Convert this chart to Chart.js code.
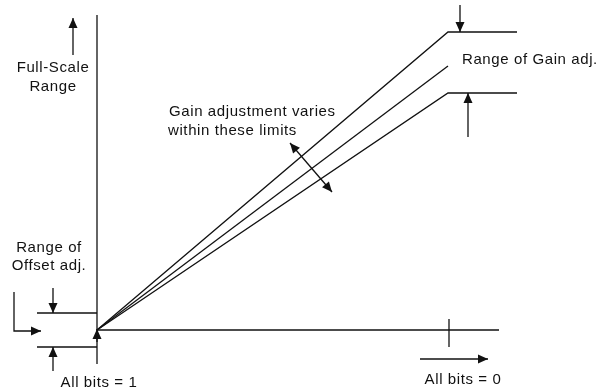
<!DOCTYPE html>
<html>
<head>
<meta charset="utf-8">
<script src="https://cdn.jsdelivr.net/npm/chart.js@4/dist/chart.umd.min.js"></script>
<style>
  html, body { margin: 0; padding: 0; background: #fff; }
  canvas { display: block; }
</style>
</head>
<body>
<canvas id="chart" width="603" height="391"></canvas>
<script>
// transfer function: input code (x) vs analog output (y), origin where axes cross
const codeX = [0, 351, 420]
const maxGain = [0, 298, 298]
const idealGain = [0, 264]
const minGain = [0, 237, 237]

// axes of the diagram
const outputAxisX = [0, 0]
const outputAxisY = [-34, 315]
const codeAxisX = [0, 402]
const codeAxisY = [0, 0]
const fullCodeTickX = [352, 352]
const fullCodeTickY = [-17, 11]

// offset adjustment band
const offsetBandX = [-60, 0]
const offsetHigh = [17, 17]
const offsetLow = [-17, -17]

// arrows: [x0, y0, x1, y1], head at the second end
const arrowGainTop = [363, 325, 363, 298]
const arrowGainBottom = [371, 193, 371, 237]
const arrowFullScale = [-24, 275, -24, 312]
const arrowOffsetTop = [-44, 42, -44, 17]
const arrowOffsetBottom = [-44, -41, -44, -17]
const arrowOrigin = [0, -12, 0, 1]
const arrowAllZero = [323, -29, 391, -29]
const arrowGainSpread = [193, 187, 235, 138]
const bentArrowX = [-83, -83, -56]
const bentArrowY = [38, -1, -1]

// text
const labelText = ['Full-Scale', 'Range', 'Range of', 'Offset adj.', 'All bits = 1', 'All bits = 0',
  'Range of Gain adj.', 'Gain adjustment varies', 'within these limits']
const labelX = [-44, -44, -48, -48, 2, 366, 365, 72, 71]
const labelY = [262, 243, 82, 64, -53, -50, 270, 218, 199]
const labelAlign = ['center', 'center', 'center', 'center', 'center', 'center', 'left', 'left', 'left']

const pts = (xs, ys) => xs.map((x, i) => ({x, y: ys[i]}))
const seg = (a) => [{x: a[0], y: a[1]}, {x: a[2], y: a[3]}]

const ink = '#111'
const line = (data, extra) => Object.assign({
  data, showLine: true, borderColor: ink, borderWidth: 1.3, pointRadius: 0, fill: false
}, extra)

const datasets = [
  line(pts(codeX, maxGain)),
  line(pts(codeX.slice(0, 2), idealGain)),
  line(pts(codeX, minGain)),
  line(pts(outputAxisX, outputAxisY)),
  line(pts(codeAxisX, codeAxisY)),
  line(pts(fullCodeTickX, fullCodeTickY)),
  line(pts(offsetBandX, offsetHigh)),
  line(pts(offsetBandX, offsetLow)),
  line(seg(arrowGainTop), {arrow: 'end'}),
  line(seg(arrowGainBottom), {arrow: 'end'}),
  line(seg(arrowFullScale), {arrow: 'end'}),
  line(seg(arrowOffsetTop), {arrow: 'end'}),
  line(seg(arrowOffsetBottom), {arrow: 'end'}),
  line(seg(arrowOrigin), {arrow: 'end'}),
  line(seg(arrowAllZero), {arrow: 'end'}),
  line(seg(arrowGainSpread), {arrow: 'both'}),
  line(pts(bentArrowX, bentArrowY), {arrow: 'end'})
]

// filled arrowheads at the ends of flagged datasets
const arrowHeads = {
  id: 'arrowHeads',
  afterDatasetsDraw(chart) {
    const {ctx, scales: {x, y}} = chart
    const head = (tip, from) => {
      const tx = x.getPixelForValue(tip.x), ty = y.getPixelForValue(tip.y)
      const fx = x.getPixelForValue(from.x), fy = y.getPixelForValue(from.y)
      const a = Math.atan2(ty - fy, tx - fx)
      const len = 10, half = 4.5
      ctx.beginPath()
      ctx.moveTo(tx, ty)
      ctx.lineTo(tx - len * Math.cos(a) - half * Math.sin(a), ty - len * Math.sin(a) + half * Math.cos(a))
      ctx.lineTo(tx - len * Math.cos(a) + half * Math.sin(a), ty - len * Math.sin(a) - half * Math.cos(a))
      ctx.closePath()
      ctx.fill()
    }
    ctx.save()
    ctx.fillStyle = ink
    chart.data.datasets.forEach((ds) => {
      if (!ds.arrow) return
      const d = ds.data, n = d.length
      head(d[n - 1], d[n - 2])
      if (ds.arrow === 'both') head(d[0], d[1])
    })
    ctx.restore()
  }
}

// text annotations placed through the scales
const labels = {
  id: 'labels',
  afterDraw(chart) {
    const {ctx, scales: {x, y}} = chart
    ctx.save()
    ctx.fillStyle = ink
    ctx.font = '15px "Liberation Sans", Arial, sans-serif'
    ctx.letterSpacing = '0.6px'
    ctx.textBaseline = 'middle'
    labelText.forEach((t, i) => {
      ctx.textAlign = labelAlign[i]
      ctx.fillText(t, x.getPixelForValue(labelX[i]), y.getPixelForValue(labelY[i]))
    })
    ctx.restore()
  }
}

new Chart(document.getElementById('chart'), {
  type: 'scatter',
  data: { datasets },
  options: {
    responsive: false,
    devicePixelRatio: 1,
    animation: false,
    layout: { padding: 0 },
    plugins: { legend: { display: false }, tooltip: { enabled: false } },
    scales: {
      x: { type: 'linear', min: -97, max: 506, display: false },
      y: { type: 'linear', min: -61, max: 330, display: false }
    }
  },
  plugins: [arrowHeads, labels]
})
</script>
</body>
</html>
